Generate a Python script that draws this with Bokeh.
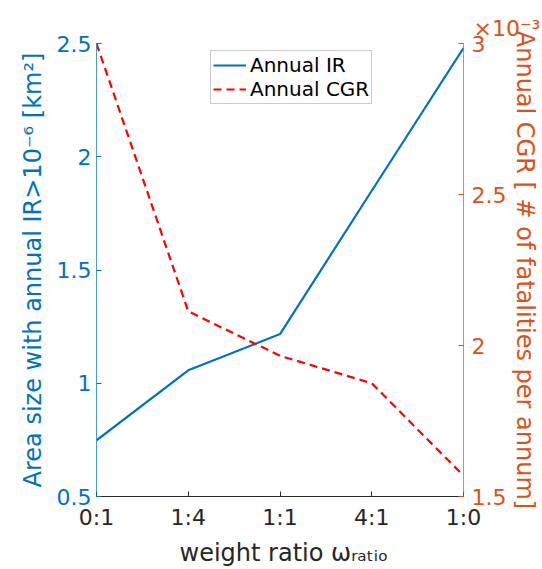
from bokeh.plotting import figure
from bokeh.models import Range1d, LinearAxis, FixedTicker, CustomJSTickFormatter, Legend, LegendItem, Title
from bokeh.embed import file_html
from bokeh.resources import INLINE

# ---- data ----
x_labels = ["0:1", "1:4", "1:1", "4:1", "1:0"]
x_pos = [0, 1, 2, 3, 4]
annual_ir = [0.748, 1.057, 1.217, 1.85, 2.48]
annual_cgr = [3.0e-3, 2.113e-3, 1.966e-3, 1.875e-3, 1.569e-3]
left_ticks = [0.5, 1.0, 1.5, 2.0, 2.5]
right_ticks = [1.5e-3, 2.0e-3, 2.5e-3, 3.0e-3]

BLUE = "#0072BD"
ORANGE = "#D95319"
DARK = "#262626"
FONT = "DejaVu Sans"

p = figure(width=542, height=569, output_backend="svg", toolbar_location=None,
           x_range=Range1d(0, 4), y_range=Range1d(0.5, 2.5),
           min_border_left=96, min_border_right=73, min_border_top=43, min_border_bottom=66)
p.extra_y_ranges = {"cgr": Range1d(1.5e-3, 3.0e-3)}
p.grid.visible = False
p.outline_line_color = None
p.background_fill_color = "white"
p.border_fill_color = "white"

r_ir = p.line(x_pos, annual_ir, line_color=BLUE, line_width=2.2)
r_cgr = p.line(x_pos, annual_cgr, y_range_name="cgr", line_color="#FF0000",
               line_width=2.2, line_dash="8 5")

# x axis
xa = p.xaxis[0]
xa.ticker = FixedTicker(ticks=x_pos)
xa.major_label_overrides = {i: s for i, s in zip(x_pos, x_labels)}
xa.minor_tick_line_color = None
xa.major_tick_in = 5
xa.major_tick_out = 0
xa.axis_line_color = DARK
xa.major_tick_line_color = DARK
xa.major_label_text_color = DARK
xa.major_label_text_font = FONT
xa.major_label_text_font_size = "22px"
xa.major_label_standoff = 8
xa.axis_label = "\u00a0weight ratio \u03c9\u1d63\u2090\u209c\u1d62\u2092"
xa.axis_label_text_color = DARK
xa.axis_label_text_font = FONT
xa.axis_label_text_font_size = "24px"
xa.axis_label_text_font_style = "normal"
xa.axis_label_standoff = 6

# left axis
ya = p.yaxis[0]
ya.ticker = FixedTicker(ticks=left_ticks)
ya.formatter = CustomJSTickFormatter(code="return tick.toString();")
ya.minor_tick_line_color = None
ya.major_tick_in = 5
ya.major_tick_out = 0
ya.axis_line_color = BLUE
ya.axis_line_alpha = 0.7
ya.major_tick_line_color = BLUE
ya.major_label_text_color = BLUE
ya.major_label_text_font = FONT
ya.major_label_text_font_size = "22px"
ya.major_label_standoff = 5
ya.axis_label = "Area size with annual IR>10\u207b\u2076 [km\u00b2]"
ya.axis_label_text_color = BLUE
ya.axis_label_text_font = FONT
ya.axis_label_text_font_size = "24px"
ya.axis_label_text_font_style = "normal"
ya.axis_label_standoff = 7

# right axis
ra = LinearAxis(y_range_name="cgr")
ra.ticker = FixedTicker(ticks=right_ticks)
ra.formatter = CustomJSTickFormatter(code="return parseFloat((tick*1000).toFixed(3)).toString();")
ra.minor_tick_line_color = None
ra.major_tick_in = 5
ra.major_tick_out = 0
ra.axis_line_color = ORANGE
ra.axis_line_alpha = 0.7
ra.major_tick_line_color = ORANGE
ra.major_label_text_color = ORANGE
ra.major_label_text_font = FONT
ra.major_label_text_font_size = "22px"
ra.major_label_standoff = 8
ra.axis_label = "Annual CGR [ # of fatalities per annum]"
ra.axis_label_text_color = ORANGE
ra.axis_label_text_font = FONT
ra.axis_label_text_font_size = "24px"
ra.axis_label_text_font_style = "normal"
ra.axis_label_standoff = 2
ra.axis_label_orientation = "vertical"
p.add_layout(ra, "right")

# exponent of the right axis
p.add_layout(Title(text="\u00d710\u207b\u00b3", align="left", offset=377, standoff=6,
                   text_font=FONT, text_font_size="22px", text_color=ORANGE,
                   text_font_style="normal"), "above")

legend = Legend(items=[LegendItem(label="Annual IR", renderers=[r_ir]),
                       LegendItem(label="Annual CGR", renderers=[r_cgr])],
                location=(114, 392))
legend.label_text_font = FONT
legend.label_text_font_size = "20px"
legend.label_text_color = "black"
legend.glyph_width = 33
legend.glyph_height = 20
legend.label_height = 20
legend.label_standoff = 4
legend.spacing = 0
legend.padding = 2
legend.margin = 0
legend.border_line_color = "#999999"
legend.border_line_width = 1
legend.background_fill_color = "white"
legend.background_fill_alpha = 1
p.add_layout(legend, "center")

open("out.html", "w").write(file_html(p, INLINE))
